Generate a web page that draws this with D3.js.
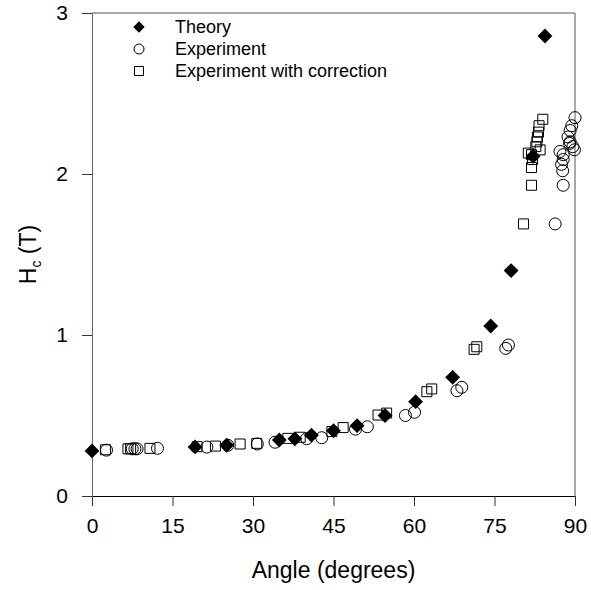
<!DOCTYPE html>
<html>
<head>
<meta charset="utf-8">
<script src="https://cdn.jsdelivr.net/npm/d3@7"></script>
<style>
  body { margin: 0; background: #fff; }
  svg { display: block; font-family: "Liberation Sans", Arial, sans-serif; }
</style>
</head>
<body>
<svg id="chart" width="591" height="590"></svg>
<script>
// [angle in degrees, Hc in tesla]
const theory = [[0,0.28],[19.2,0.305],[25.1,0.315],[34.9,0.348],[37.8,0.355],[40.9,0.378],
  [45,0.406],[49.4,0.437],[54.6,0.50],[60.3,0.586],[67.2,0.737],[74.3,1.056],[78.1,1.40],
  [82.2,2.11],[84.4,2.857]];
const experiment = [[2.7,0.285],[7.5,0.293],[8.0,0.293],[8.4,0.293],[12.2,0.296],[21.4,0.304],
  [25.3,0.315],[30.8,0.323],[34.1,0.334],[40.0,0.356],[42.8,0.362],[49.1,0.415],[51.3,0.43],
  [58.4,0.50],[60.1,0.52],[68.0,0.654],[68.9,0.675],[77.1,0.917],[77.6,0.938],[86.3,1.69],
  [87.8,1.93],[87.7,2.02],[87.5,2.06],[87.8,2.09],[87.8,2.12],[87.2,2.14],[89.9,2.15],
  [89.6,2.17],[89.0,2.19],[89.1,2.20],[88.7,2.23],[89.1,2.27],[89.4,2.30],[90.0,2.35]];
const corrected = [[2.5,0.287],[6.7,0.293],[7.2,0.293],[10.8,0.296],[19.6,0.306],[23.0,0.31],
  [27.6,0.323],[30.7,0.327],[36.5,0.358],[38.8,0.365],[44.7,0.40],[46.8,0.425],[53.3,0.503],
  [54.9,0.515],[62.4,0.648],[63.3,0.665],[71.2,0.911],[71.7,0.927],[80.4,1.69],[81.9,1.93],
  [81.9,2.04],[82.1,2.09],[81.9,2.12],[81.3,2.13],[83.5,2.15],[82.7,2.17],[82.9,2.20],
  [83.0,2.23],[83.2,2.26],[83.3,2.30],[84.0,2.34]];
const xTicks = [0, 15, 30, 45, 60, 75, 90];
const yTicks = [0, 1, 2, 3];
const legendLabels = ['Theory', 'Experiment', 'Experiment with correction'];

const m = {left: 92, top: 13, right: 16, bottom: 94};
const W = 591, H = 590;
const iw = W - m.left - m.right, ih = H - m.top - m.bottom;

const svg = d3.select('#chart');
const x = d3.scaleLinear().domain([0, 90]).range([0, iw]);
const y = d3.scaleLinear().domain([0, 3]).range([ih, 0]);
const g = svg.append('g').attr('transform', `translate(${m.left},${m.top})`);

// frame: top and right edges
g.append('path').attr('d', `M0,0H${iw}V${ih}`).attr('fill', 'none')
  .attr('stroke', '#555').attr('stroke-width', 1);

const xAxis = g.append('g').attr('transform', `translate(0,${ih})`)
  .call(d3.axisBottom(x).tickValues(xTicks).tickFormat(d3.format('d'))
    .tickSize(10).tickPadding(12).tickSizeOuter(0));
const yAxis = g.append('g')
  .call(d3.axisLeft(y).tickValues(yTicks).tickFormat(d3.format('d'))
    .tickSize(10).tickPadding(14).tickSizeOuter(0));
[xAxis, yAxis].forEach(a => {
  a.selectAll('text').attr('font-size', 21).attr('fill', '#000')
   .attr('font-family', '"Liberation Sans", Arial, sans-serif');
  a.selectAll('line').attr('stroke', '#333');
});
xAxis.select('.domain').attr('stroke', '#000');
yAxis.select('.domain').attr('stroke', '#666');

const sq = d3.symbol().type(d3.symbolSquare);
const circ = d3.symbol().type(d3.symbolCircle);
const dia = d3.symbol().type(d3.symbolSquare).size(110);

// squares, then circles, then diamonds on top
g.append('g').selectAll('path').data(corrected).join('path')
  .attr('d', sq.size(100)())
  .attr('transform', d => `translate(${x(d[0])},${y(d[1])})`)
  .attr('fill', 'none').attr('stroke', '#000').attr('stroke-width', 1);
g.append('g').selectAll('path').data(experiment).join('path')
  .attr('d', circ.size(Math.PI * 36)())
  .attr('transform', d => `translate(${x(d[0])},${y(d[1])})`)
  .attr('fill', 'none').attr('stroke', '#000').attr('stroke-width', 1);
g.append('g').selectAll('path').data(theory).join('path')
  .attr('d', dia())
  .attr('transform', d => `translate(${x(d[0])},${y(d[1])}) rotate(45)`)
  .attr('fill', '#000');

// legend
const leg = svg.append('g');
const legY = [27, 49, 71];
leg.append('path').attr('d', d3.symbol().type(d3.symbolSquare).size(64)())
  .attr('transform', `translate(139,${legY[0]}) rotate(45)`).attr('fill', '#000');
leg.append('path').attr('d', circ.size(Math.PI * 25)())
  .attr('transform', `translate(139,${legY[1]})`).attr('fill', 'none').attr('stroke', '#000');
leg.append('path').attr('d', sq.size(81)())
  .attr('transform', `translate(139,${legY[2]})`).attr('fill', 'none').attr('stroke', '#000');
leg.selectAll('text').data(legendLabels).join('text')
  .attr('x', 175).attr('y', (d, i) => legY[i]).attr('dy', '0.35em')
  .attr('font-size', 18).text(d => d);

// axis titles
svg.append('text').attr('x', m.left + iw / 2).attr('y', 578)
  .attr('text-anchor', 'middle').attr('font-size', 23).text('Angle (degrees)');
const yt = svg.append('text')
  .attr('transform', `translate(36,${m.top + ih / 2}) rotate(-90)`)
  .attr('text-anchor', 'middle').attr('font-size', 23);
yt.append('tspan').text('H');
yt.append('tspan').attr('font-size', 14).attr('dy', 5).text('c');
yt.append('tspan').attr('dy', -5).text(' (T)');
</script>
</body>
</html>
